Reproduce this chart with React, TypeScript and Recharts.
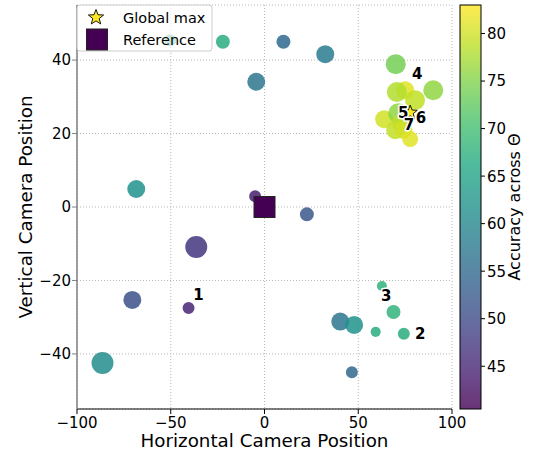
import React from 'react';
import { ScatterChart, Scatter, XAxis, YAxis, ZAxis, CartesianGrid, Cell } from 'recharts';

// Camera runs: horizontal position, vertical position, accuracy, marker area
const runX = [-50.3, -22.2, 10.1, 32.4, -4.4, -68.4, -5.0, 22.6, -36.4, -70.5, -40.5, -86.4, 62.6, 68.8, 40.4, 47.8, 59.3, 74.3, 46.6,
  70.0, 90.0, 75.0, 70.6, 80.3, 63.8, 71.3, 73.4, 69.7, 74.0, 77.7];
const runY = [45.4, 45.0, 45.0, 41.6, 34.1, 4.9, 2.9, -2.0, -10.9, -25.3, -27.5, -42.5, -21.5, -28.6, -31.2, -32.1, -34.0, -34.5, -45.0,
  38.9, 31.8, 31.8, 31.3, 29.1, 23.9, 25.5, 22.8, 20.9, 21.0, 18.5];
const runAcc = [65, 67, 55, 58, 57, 62, 44, 52, 47, 51, 45, 61, 68, 68, 57, 62, 67, 67, 55,
  74, 76, 81, 78, 79, 80, 76, 79, 79, 80, 81];
const runSize = [113, 154, 154, 254, 254, 254, 113, 154, 380, 254, 113, 380, 79, 154, 254, 254, 79, 113, 113,
  314, 314, 254, 314, 314, 254, 314, 314, 254, 254, 201];

const globalMax = [{ x: 77.7, y: 25.7, acc: 83 }];
const reference = [{ x: 0, y: 0 }];

const labelX = [-35.2, 83.0, 64.9, 81.4, 74.0, 83.5, 77.1];
const labelY = [-24.0, -34.6, -24.2, 36.1, 25.6, 24.2, 22.3];
const labelText = ['1', '2', '3', '4', '5', '6', '7'];

const xTicks = [-100, -50, 0, 50, 100];
const yTicks = [-40, -20, 0, 20, 40];
const cbTicks = [45, 50, 55, 60, 65, 70, 75, 80];

const VIRIDIS = ['#440154', '#482475', '#414487', '#355f8d', '#2a788e', '#21918c', '#22a884', '#44bf70', '#7ad151', '#bddf26', '#fde725'];
const CMIN = 40.5;
const CMAX = 83.0;

function hexToRgb(h: string) {
  return [parseInt(h.slice(1, 3), 16), parseInt(h.slice(3, 5), 16), parseInt(h.slice(5, 7), 16)];
}
function viridis(v: number) {
  let t = (v - CMIN) / (CMAX - CMIN);
  t = Math.max(0, Math.min(1, t));
  const p = t * (VIRIDIS.length - 1);
  const i = Math.min(VIRIDIS.length - 2, Math.floor(p));
  const f = p - i;
  const a = hexToRgb(VIRIDIS[i]);
  const b = hexToRgb(VIRIDIS[i + 1]);
  const c = a.map((av, k) => Math.round(av + (b[k] - av) * f));
  return `rgb(${c[0]},${c[1]},${c[2]})`;
}

const runs = runX.map((x, i) => ({ x, y: runY[i], z: runSize[i], acc: runAcc[i] }));
const labels = labelX.map((x, i) => ({ x, y: labelY[i], t: labelText[i] }));

const FONT = '"DejaVu Sans", sans-serif';
const fmt = (v: number) => String(v).replace('-', '\u2212');

function starPath(cx: number, cy: number, R: number, r: number) {
  let d = '';
  for (let k = 0; k < 10; k++) {
    const ang = -Math.PI / 2 + (k * Math.PI) / 5;
    const rad = k % 2 === 0 ? R : r;
    d += (k === 0 ? 'M' : 'L') + (cx + rad * Math.cos(ang)).toFixed(2) + ',' + (cy + rad * Math.sin(ang)).toFixed(2);
  }
  return d + 'Z';
}

const StarShape = (p: any) => (
  <path d={starPath(p.cx, p.cy, 7.5, 3.2)} fill={viridis(p.payload.acc)} stroke="#000" strokeWidth={0.9} />
);
const SquareShape = (p: any) => (
  <rect x={p.cx - 10.5} y={p.cy - 10.5} width={21} height={21} fill="#440154" stroke="#222" strokeWidth={1} />
);
const LabelShape = (p: any) => (
  <text x={p.cx} y={p.cy} textAnchor="middle" dominantBaseline="central" fontFamily={FONT} fontSize={15} fontWeight="bold"
    fill="#000" stroke="#fff" strokeWidth={3} paintOrder="stroke" strokeLinejoin="round">{p.payload.t}</text>
);

const PL = 77, PR = 452, PT = 5, PB = 409;
const CBX = 460, CBW = 21;

export default function App() {
  const cbY = (v: number) => PT + ((CMAX - v) / (CMAX - CMIN)) * (PB - PT);
  return (
    <div style={{ position: 'absolute', left: 0, top: 0, width: 536, height: 456, fontFamily: FONT, background: '#fff' }}>
      <ScatterChart width={536} height={456} margin={{ top: PT, right: 536 - PR, bottom: 0, left: 0 }}>
        <CartesianGrid stroke="#b8b8b8" strokeDasharray="1 2" />
        <XAxis dataKey="x" type="number" domain={[-100, 100]} ticks={xTicks} allowDataOverflow height={456 - PB}
          tick={{ fontSize: 15, fill: '#000', fontFamily: FONT }} tickFormatter={fmt}
          axisLine={{ stroke: '#000', strokeWidth: 1 }} tickLine={{ stroke: '#000' }} tickSize={5} tickMargin={3} />
        <YAxis dataKey="y" type="number" domain={[-55, 55]} ticks={yTicks} allowDataOverflow width={PL}
          tick={{ fontSize: 15, fill: '#000', fontFamily: FONT }} tickFormatter={fmt}
          axisLine={{ stroke: '#808080', strokeWidth: 1.5 }} tickLine={{ stroke: '#808080' }} tickSize={5} tickMargin={1} />
        <ZAxis dataKey="z" type="number" domain={[0, 1000]} range={[0, 1000]} />
        <Scatter data={runs} isAnimationActive={false}>
          {runs.map((d, i) => (
            <Cell key={i} fill={viridis(d.acc)} fillOpacity={0.85} stroke="none" />
          ))}
        </Scatter>
        <Scatter data={reference} isAnimationActive={false} shape={SquareShape} />
        <Scatter data={globalMax} isAnimationActive={false} shape={StarShape} />
        <Scatter data={labels} isAnimationActive={false} shape={LabelShape} />
      </ScatterChart>
      <svg width={536} height={456} style={{ position: 'absolute', left: 0, top: 0, pointerEvents: 'none' }}>
        <defs>
          <linearGradient id="cbgrad" x1="0" y1="1" x2="0" y2="0">
            {VIRIDIS.map((c, i) => (
              <stop key={i} offset={i / (VIRIDIS.length - 1)} stopColor={c} />
            ))}
          </linearGradient>
        </defs>
        <rect x={CBX} y={PT} width={CBW} height={PB - PT} fill="url(#cbgrad)" fillOpacity={0.8} stroke="#000" strokeWidth={1} />
        {cbTicks.map((t) => (
          <g key={t}>
            <line x1={CBX + CBW} x2={CBX + CBW + 4} y1={cbY(t)} y2={cbY(t)} stroke="#000" />
            <text x={CBX + CBW + 6} y={cbY(t)} dy="0.36em" fontSize={15} fontFamily={FONT} fill="#000">{t}</text>
          </g>
        ))}
        <text transform="translate(520,207) rotate(-90)" textAnchor="middle" fontSize={16} fontFamily={FONT} fill="#000">Accuracy across Θ</text>
        <text transform="translate(32,207) rotate(-90)" textAnchor="middle" fontSize={18.3} fontFamily={FONT} fill="#000">Vertical Camera Position</text>
        <text x={(PL + PR) / 2} y={447} textAnchor="middle" fontSize={18.3} fontFamily={FONT} fill="#000">Horizontal Camera Position</text>
        <rect x={77} y={5} width={135} height={46} rx={3} fill="#fff" fillOpacity={0.72} stroke="#cccccc" strokeWidth={1} />
        <path d={starPath(96, 17.5, 8, 3.4)} fill="#fde725" stroke="#000" strokeWidth={0.9} />
        <rect x={86.5} y={29} width={21} height={21} fill="#440154" stroke="#222" strokeWidth={1} />
        <text x={123} y={17.5} dy="0.36em" fontSize={14.5} fontFamily={FONT} fill="#000">Global max</text>
        <text x={123} y={39.5} dy="0.36em" fontSize={14.5} fontFamily={FONT} fill="#000">Reference</text>
      </svg>
    </div>
  );
}
